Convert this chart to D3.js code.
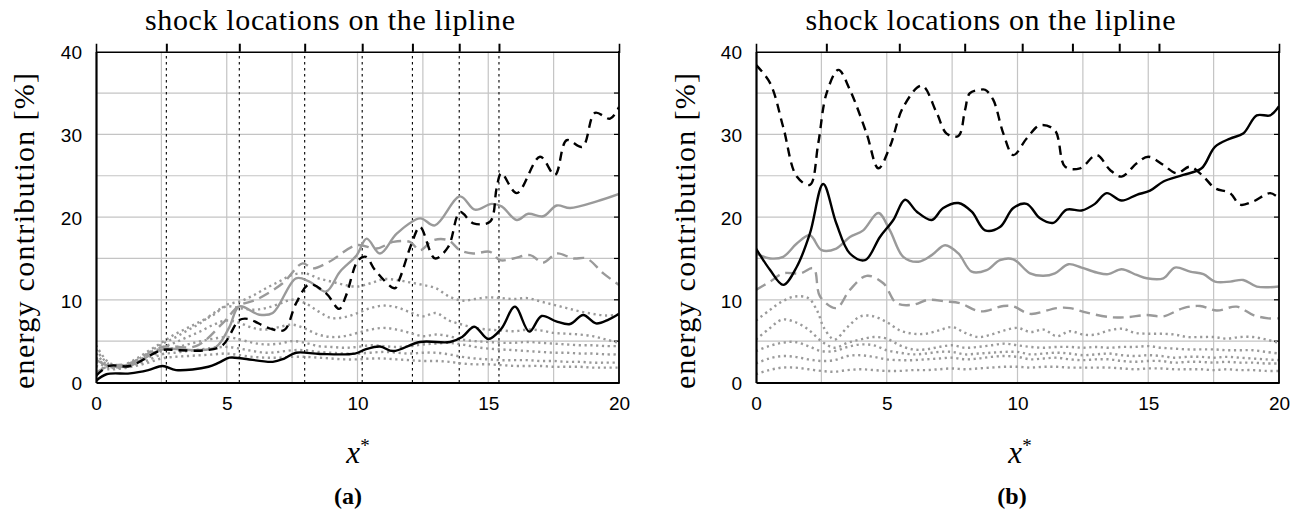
<!DOCTYPE html>
<html><head><meta charset="utf-8">
<script src="https://cdn.jsdelivr.net/npm/d3@7/dist/d3.min.js"></script>
<style>body{margin:0;background:#fff}</style>
</head><body>
<svg id="c" width="1305" height="512" xmlns="http://www.w3.org/2000/svg"></svg>
<script>
// ---------- data ----------
const xTickValues = [0, 5, 10, 15, 20];
const yTickValues = [0, 10, 20, 30, 40];
const xGridValues = [2.5, 5, 7.5, 10, 12.5, 15, 17.5];
const yGridValues = [5, 10, 15, 20, 25, 30, 35];
const shockLocations = [2.69, 5.48, 7.98, 10.18, 12.1, 13.89, 15.41];
const titleText = "shock locations on the lipline";
const yLabelText = "energy contribution [%]";
const panelLabels = ["(a)", "(b)"];

// panel (a)
const a_blackSolid = [[0,0.2],[0.4,1.0],[1.3,1.1],[2,1.5],[2.55,2.0],[3.06,1.5],[4.3,1.9],[4.7,2.4],[5.1,3.0],[5.6,2.9],[6.76,2.5],[7.2,2.9],[7.65,3.6],[8.57,3.45],[9.9,3.5],[10.3,4.0],[10.86,4.35],[11.36,3.8],[12.39,4.9],[13.54,4.9],[14.0,5.5],[14.47,6.75],[15.0,5.26],[15.5,6.5],[16.02,9.17],[16.57,6.15],[17.04,8.04],[17.6,7.4],[18.13,7.07],[18.63,8.16],[19.12,7.15],[19.6,7.6],[20,8.3]];
const a_blackDashed = [[0,0.8],[0.5,2.0],[1.3,2.0],[2.5,3.9],[3.2,3.9],[4.2,3.9],[4.84,4.5],[5.48,7.55],[5.8,7.7],[6.63,6.55],[7.2,6.35],[7.65,9.57],[8.16,11.87],[8.8,10.78],[9.3,8.9],[9.56,10.5],[10.03,14.8],[10.33,15.2],[10.67,13.6],[11.43,11.4],[11.62,12.6],[12.07,16.8],[12.39,18.8],[12.96,15.0],[13.47,16.4],[13.92,20.6],[14.43,19.25],[15.07,19.45],[15.32,23.5],[15.5,25.3],[16.09,22.9],[16.98,27.3],[17.55,25.1],[18.0,29.3],[18.6,28.5],[19.08,32.6],[19.66,31.9],[20,33.3]];
const a_graySolid = [[0,2.8],[0.4,2.1],[1.27,2.0],[2.55,4.0],[3.82,3.9],[4.59,4.3],[5.1,6.7],[5.48,9.2],[6.25,8.2],[6.76,8.4],[7.65,12.6],[8.16,12.2],[8.8,11.0],[9.33,13.4],[9.97,15.4],[10.35,17.4],[10.86,15.6],[11.5,18.0],[12.39,19.85],[12.96,19.0],[13.92,22.5],[14.49,20.9],[15.13,21.6],[15.51,21.3],[16.09,19.65],[16.53,20.4],[17.1,20.1],[17.62,21.4],[18.13,21.1],[19.15,21.9],[20,22.8]];
const a_grayDashed = [[0,1.2],[0.5,2.0],[1.27,2.3],[2.55,4.3],[3.82,4.4],[4.84,7.15],[5.48,9.3],[6.12,10.0],[7.14,12.0],[7.9,14.4],[8.29,13.8],[8.92,14.6],[9.97,16.6],[10.73,16.2],[11.37,17.0],[12.0,17.0],[12.39,16.0],[12.9,17.2],[13.47,17.2],[13.92,16.0],[14.43,15.6],[15.07,15.8],[15.45,14.8],[15.96,15.0],[16.6,15.4],[17.1,14.5],[17.62,15.6],[18.25,15.0],[18.76,15.0],[19.4,13.2],[20,11.8]];
const a_dotted1 = [[0,4.5],[0.5,2.4],[1,2.1],[1.5,2.8],[2,3.8],[2.5,4.8],[3,5.8],[3.5,6.6],[4,7.4],[4.5,8.2],[5,9.4],[5.5,9.8],[6,10.5],[6.5,11.4],[7,12.2],[7.5,13.0],[8,13.2],[8.5,12.6],[9,12.2],[9.5,11.8],[10,11.6],[10.5,12.0],[11,12.5],[11.5,12.4],[12,12.1],[12.5,11.8],[13,11.4],[13.5,10.4],[14,9.9],[14.5,10.1],[15,10.3],[15.5,10.2],[16,10.1],[16.5,10.2],[17,9.8],[17.5,9.4],[18,9.0],[18.5,8.6],[19,8.3],[19.5,8.1],[20,8.2]];
const a_dotted2 = [[0,4.0],[0.5,2.2],[1,2.0],[1.5,2.6],[2,3.6],[2.5,4.6],[3,5.4],[3.5,6.3],[4,7.2],[4.5,8.4],[5,9.2],[5.5,9.0],[6,8.8],[6.5,9.0],[7,9.5],[7.5,10.0],[8,9.6],[8.5,8.6],[9,7.8],[9.5,7.9],[10,8.4],[10.5,9.0],[11,9.3],[11.5,9.1],[12,8.5],[12.5,8.0],[13,8.4],[13.5,7.5],[14,7.0],[14.5,6.6],[15,6.4],[15.5,6.3],[16,6.2],[16.5,6.4],[17,6.3],[17.5,6.0],[18,5.9],[18.5,5.8],[19,5.6],[19.5,5.2],[20,4.8]];
const a_dotted3 = [[0,3.5],[0.5,2.0],[1,2.0],[1.5,2.5],[2,3.3],[2.5,4.2],[3,4.8],[3.5,5.5],[4,6.2],[4.5,7.0],[5,7.5],[5.5,7.2],[6,6.6],[6.5,6.4],[7,6.7],[7.5,7.0],[8,6.5],[8.5,5.8],[9,5.5],[9.5,5.6],[10,6.0],[10.5,6.4],[11,6.6],[11.5,6.4],[12,6.0],[12.5,5.6],[13,5.8],[13.5,5.6],[14,5.2],[14.5,5.0],[15,4.9],[15.5,4.8],[16,4.8],[16.5,4.9],[17,4.8],[17.5,4.7],[18,4.6],[18.5,4.5],[19,4.5],[19.5,4.4],[20,4.4]];
const a_dotted4 = [[0,3.0],[0.5,1.9],[1,1.9],[1.5,2.4],[2,3.0],[2.5,3.8],[3,4.2],[3.5,4.6],[4,5.0],[4.5,5.3],[5,5.5],[5.5,5.2],[6,4.8],[6.5,4.6],[7,4.7],[7.5,5.0],[8,4.8],[8.5,4.4],[9,4.3],[9.5,4.2],[10,4.3],[10.5,4.5],[11,4.4],[11.5,4.3],[12,4.4],[12.5,4.6],[13,4.7],[13.5,4.8],[14,4.6],[14.5,4.3],[15,4.1],[15.5,4.0],[16,3.9],[16.5,3.8],[17,3.7],[17.5,3.6],[18,3.6],[18.5,3.5],[19,3.5],[19.5,3.4],[20,3.4]];
const a_dotted5 = [[0,2.5],[0.5,1.8],[1,1.8],[1.5,2.2],[2,2.7],[2.5,3.4],[3,3.6],[3.5,3.8],[4,4.0],[4.5,4.2],[5,4.3],[5.5,4.1],[6,3.8],[6.5,3.6],[7,3.7],[7.5,3.9],[8,3.9],[8.5,3.7],[9,3.6],[9.5,3.5],[10,3.5],[10.5,3.6],[11,3.7],[11.5,3.6],[12,3.5],[12.5,3.6],[13,3.6],[13.5,3.4],[14,3.1],[14.5,2.9],[15,2.8],[15.5,2.7],[16,2.7],[16.5,2.7],[17,2.6],[17.5,2.6],[18,2.5],[18.5,2.5],[19,2.4],[19.5,2.4],[20,2.4]];
const a_dotted6 = [[0,2.0],[0.5,1.6],[1,1.7],[1.5,2.0],[2,2.4],[2.5,2.9],[3,3.1],[3.5,3.2],[4,3.3],[4.5,3.4],[5,3.5],[5.5,3.3],[6,3.1],[6.5,3.0],[7,3.0],[7.5,3.1],[8,3.1],[8.5,3.0],[9,2.9],[9.5,2.8],[10,2.8],[10.5,2.9],[11,2.9],[11.5,2.8],[12,2.7],[12.5,2.6],[13,2.6],[13.5,2.5],[14,2.3],[14.5,2.2],[15,2.2],[15.5,2.1],[16,2.0],[16.5,2.0],[17,2.0],[17.5,1.9],[18,1.9],[18.5,1.9],[19,1.8],[19.5,1.8],[20,1.8]];

// panel (b)
const b_blackDashed = [[0,38.4],[0.54,36.2],[1.04,30.9],[1.56,24.9],[2.06,23.9],[2.38,28.9],[2.7,35.0],[3.15,37.8],[3.59,35.4],[4.23,30.1],[4.68,25.9],[5.12,28.5],[5.63,33.3],[6.34,35.9],[6.91,32.6],[7.29,30.1],[7.74,29.8],[7.99,32.9],[8.18,35.0],[8.57,35.4],[8.76,35.4],[9.07,34.2],[9.46,30.1],[9.84,27.5],[10.35,29.5],[10.86,31.1],[11.43,30.5],[11.82,26.1],[12.39,25.9],[13.03,27.5],[13.54,25.7],[13.98,24.9],[14.56,26.5],[15.0,27.3],[15.58,26.3],[16.09,25.3],[16.6,26.1],[17.11,24.9],[17.55,23.5],[18.13,22.9],[18.51,21.5],[19.02,21.9],[19.66,22.9],[20,22.3]];
const b_blackSolid = [[0,16.2],[0.54,13.6],[1.04,11.8],[1.56,14.0],[2.06,18.0],[2.57,24.0],[3.07,19.25],[3.59,15.6],[4.17,14.8],[4.74,17.6],[5.25,19.65],[5.7,22.1],[6.15,20.65],[6.72,19.65],[7.16,21.1],[7.74,21.7],[8.25,20.65],[8.76,18.4],[9.33,18.8],[9.84,21.1],[10.35,21.6],[10.86,19.85],[11.37,19.3],[11.88,20.9],[12.45,20.8],[12.96,21.6],[13.41,22.9],[13.98,22.0],[14.56,22.7],[15.07,23.2],[15.58,24.3],[16.34,25.1],[17.04,25.9],[17.55,28.5],[18.13,29.5],[18.63,30.1],[19.15,32.3],[19.66,32.3],[20,33.4]];
const b_graySolid = [[0,15.6],[0.54,15.0],[1.04,15.2],[1.56,16.8],[2.06,17.8],[2.51,16.0],[3.07,16.2],[3.59,17.6],[4.1,18.4],[4.68,20.5],[5.12,18.4],[5.63,15.2],[6.21,14.6],[6.72,15.4],[7.23,16.6],[7.74,15.6],[8.25,13.4],[8.82,13.6],[9.33,14.8],[9.84,14.9],[10.48,13.2],[10.99,12.9],[11.43,13.2],[11.95,14.3],[12.45,13.9],[13.03,13.3],[13.47,13.1],[13.98,13.7],[14.56,13.0],[14.94,12.6],[15.58,12.6],[16.02,13.9],[16.6,13.4],[17.11,13.1],[17.55,12.2],[18.13,12.2],[18.63,12.4],[19.15,11.6],[20,11.6]];
const b_grayDashed = [[0,11.2],[0.54,12.2],[1.04,13.2],[1.7,13.2],[2.2,13.8],[2.45,10.4],[3.07,9.0],[3.59,11.2],[4.23,12.9],[4.87,12.0],[5.37,9.6],[6.0,9.4],[6.59,10.0],[7.23,9.8],[7.8,9.6],[8.57,8.6],[9.46,9.25],[9.84,9.2],[10.48,8.3],[11.5,9.0],[12.01,9.0],[12.65,8.44],[13.54,7.9],[14.18,7.9],[14.94,8.16],[15.58,8.0],[16.34,9.0],[16.98,9.25],[17.62,8.7],[18.38,9.17],[19.02,8.16],[19.59,7.76],[20,7.76]];
const b_dotted1 = [[0,7.5],[0.5,8.7],[1,9.8],[1.5,10.4],[2,10.2],[2.35,8.6],[2.6,6.6],[3,5.2],[3.5,6.7],[4,8.0],[4.5,8.0],[5,7.3],[5.5,6.3],[6,5.9],[6.5,5.9],[7,6.3],[7.5,6.7],[8,6.0],[8.5,5.5],[9,5.8],[9.5,6.3],[10,6.6],[10.5,6.1],[11,6.4],[11.5,5.6],[12,6.2],[12.5,5.8],[13,5.8],[13.5,6.3],[14,6.5],[14.5,6.0],[15,5.9],[15.5,5.9],[16,5.8],[16.5,5.5],[17,5.5],[17.5,5.5],[18,5.3],[18.5,5.5],[19,5.5],[19.5,5.2],[20,4.8]];
const b_dotted2 = [[0,5.2],[0.5,6.5],[1,7.6],[1.5,7.3],[2,6.4],[2.5,5.0],[3,4.2],[3.5,4.8],[4,5.2],[4.5,5.5],[5,5.3],[5.5,4.5],[6,4.0],[6.5,4.0],[7,4.3],[7.5,4.5],[8,4.2],[8.5,4.3],[9,4.5],[9.5,4.7],[10,4.5],[10.5,4.3],[11,4.2],[11.5,4.3],[12,4.3],[12.5,4.2],[13,4.3],[13.5,4.2],[14,4.3],[14.5,4.3],[15,4.4],[15.5,4.2],[16,4.1],[16.5,4.0],[17,4.0],[17.5,4.0],[18,3.9],[18.5,3.9],[19,3.9],[19.5,3.7],[20,3.5]];
const b_dotted3 = [[0,3.8],[0.5,4.4],[1,4.8],[1.5,4.9],[2,4.4],[2.5,3.8],[3,3.8],[3.5,4.3],[4,4.6],[4.5,4.5],[5,3.9],[5.5,3.6],[6,3.4],[6.5,3.5],[7,3.7],[7.5,3.7],[8,3.4],[8.5,3.5],[9,3.6],[9.5,3.7],[10,3.7],[10.5,3.4],[11,3.5],[11.5,3.6],[12,3.5],[12.5,3.3],[13,3.4],[13.5,3.5],[14,3.3],[14.5,3.2],[15,3.3],[15.5,3.2],[16,3.0],[16.5,3.1],[17,3.1],[17.5,3.0],[18,3.1],[18.5,3.0],[19,2.9],[19.5,2.8],[20,2.7]];
const b_dotted4 = [[0,2.3],[0.5,2.9],[1,3.2],[1.5,3.1],[2,2.8],[2.5,2.6],[3,2.7],[3.5,3.2],[4,3.3],[4.5,3.1],[5,2.8],[5.5,2.7],[6,2.7],[6.5,2.8],[7,2.9],[7.5,3.0],[8,2.8],[8.5,2.9],[9,3.1],[9.5,3.2],[10,3.1],[10.5,2.8],[11,2.9],[11.5,3.0],[12,2.8],[12.5,2.7],[13,2.8],[13.5,2.8],[14,2.6],[14.5,2.5],[15,2.6],[15.5,2.6],[16,2.4],[16.5,2.5],[17,2.5],[17.5,2.4],[18,2.5],[18.5,2.4],[19,2.4],[19.5,2.3],[20,2.3]];
const b_dotted5 = [[0,1.0],[0.5,1.5],[1,1.8],[1.5,1.8],[2,1.6],[2.5,1.4],[3,1.3],[3.5,1.5],[4,1.6],[4.5,1.5],[5,1.4],[5.5,1.4],[6,1.5],[6.5,1.5],[7,1.6],[7.5,1.7],[8,1.6],[8.5,1.7],[9,1.8],[9.5,1.9],[10,1.9],[10.5,1.8],[11,1.9],[11.5,1.9],[12,1.8],[12.5,1.8],[13,1.8],[13.5,1.8],[14,1.7],[14.5,1.6],[15,1.7],[15.5,1.7],[16,1.6],[16.5,1.6],[17,1.6],[17.5,1.5],[18,1.6],[18.5,1.5],[19,1.5],[19.5,1.4],[20,1.4]];

// ---------- styles ----------
const STY = {
  blackSolid:  {stroke:"#000", w:2.4, dash:null},
  blackDashed: {stroke:"#000", w:2.4, dash:"9,6"},
  graySolid:   {stroke:"#9a9a9a", w:2.4, dash:null},
  grayDashed:  {stroke:"#9a9a9a", w:2.4, dash:"11,6"},
  grayDotted:  {stroke:"#9a9a9a", w:2.4, dash:"2.2,3.6"}
};

const panels = [
  {x0:96, x1:619, label:panelLabels[0], shockLines:true, ylabX:34, titleX:330, labX:348, xlX:358},
  {x0:756, x1:1279, label:panelLabels[1], shockLines:false, ylabX:695, titleX:990.5, labX:1012, xlX:1020}
];
panels[0].series = [
  [a_dotted6,"grayDotted"],[a_dotted5,"grayDotted"],[a_dotted4,"grayDotted"],[a_dotted3,"grayDotted"],[a_dotted2,"grayDotted"],[a_dotted1,"grayDotted"],
  [a_grayDashed,"grayDashed"],[a_graySolid,"graySolid"],[a_blackDashed,"blackDashed"],[a_blackSolid,"blackSolid"]];
panels[1].series = [
  [b_dotted5,"grayDotted"],[b_dotted4,"grayDotted"],[b_dotted3,"grayDotted"],[b_dotted2,"grayDotted"],[b_dotted1,"grayDotted"],
  [b_grayDashed,"grayDashed"],[b_graySolid,"graySolid"],[b_blackDashed,"blackDashed"],[b_blackSolid,"blackSolid"]];

const Y0 = 382.5, Y1 = 51.7;
const svg = d3.select("#c");
const serif = "'Liberation Serif','DejaVu Serif',serif";
const sans = "'Liberation Sans',Arial,sans-serif";

panels.forEach(p => {
  const x = d3.scaleLinear().domain([0,20]).range([p.x0, p.x1]);
  const y = d3.scaleLinear().domain([0,40]).range([Y0, Y1]);
  const g = svg.append("g");

  // grid
  g.append("g").selectAll("line").data(xGridValues).join("line")
    .attr("x1", d=>x(d)).attr("x2", d=>x(d)).attr("y1", Y0).attr("y2", Y1)
    .attr("stroke", "#c4c4c4").attr("stroke-width", 1.2);
  g.append("g").selectAll("line").data(yGridValues).join("line")
    .attr("y1", d=>y(d)).attr("y2", d=>y(d)).attr("x1", p.x0).attr("x2", p.x1)
    .attr("stroke", "#c4c4c4").attr("stroke-width", 1.2);
  // right-frame inner ticks
  g.append("g").selectAll("line").data(yGridValues).join("line")
    .attr("y1", d=>y(d)).attr("y2", d=>y(d)).attr("x1", p.x1-5).attr("x2", p.x1)
    .attr("stroke", "#000").attr("stroke-width", 1.2);

  // shock lines
  if (p.shockLines) {
    g.append("g").selectAll("line").data(shockLocations).join("line")
      .attr("x1", d=>x(d)).attr("x2", d=>x(d)).attr("y1", Y0).attr("y2", Y1)
      .attr("stroke", "#000").attr("stroke-width", 1.1).attr("stroke-dasharray", "2.5,3.5");
  }

  // clip
  const cid = "clip" + p.x0;
  svg.append("clipPath").attr("id", cid).append("rect")
    .attr("x", p.x0).attr("y", Y1).attr("width", p.x1-p.x0).attr("height", Y0-Y1);

  const line = d3.line().x(d=>x(d[0])).y(d=>y(d[1])).curve(d3.curveCatmullRom.alpha(0.5));
  const lg = g.append("g").attr("clip-path", `url(#${cid})`);
  p.series.forEach(([data, sname]) => {
    const s = STY[sname];
    lg.append("path").attr("d", line(data)).attr("fill", "none")
      .attr("stroke", s.stroke).attr("stroke-width", s.w)
      .attr("stroke-dasharray", s.dash).attr("stroke-linejoin", "round");
  });

  // axes (frame)
  const axB = d3.axisBottom(x).tickValues(xTickValues).tickSize(0).tickPadding(14).tickFormat(d3.format("d"));
  const axL = d3.axisLeft(y).tickValues(yTickValues).tickSize(0).tickPadding(14).tickFormat(d3.format("d"));
  const axT = d3.axisTop(x).tickValues(shockLocations).tickSize(8).tickFormat("");
  const gb = g.append("g").attr("transform", `translate(0,${Y0})`).call(axB);
  const gl = g.append("g").attr("transform", `translate(${p.x0},0)`).call(axL);
  const gt = g.append("g").attr("transform", `translate(0,${Y1})`).call(axT);
  [gb, gl].forEach(a => {
    a.select(".domain").attr("stroke", "#000").attr("stroke-width", 2.2);
    a.selectAll("text").attr("font-family", sans).attr("font-size", 19).attr("fill", "#000");
  });
  gl.selectAll("text").attr("dy", "0.38em");
  gt.select(".domain").attr("stroke", "#000").attr("stroke-width", 1.6);
  gt.selectAll(".tick line").attr("stroke", "#000").attr("stroke-width", 2);
  g.append("line").attr("x1", p.x1).attr("x2", p.x1).attr("y1", Y1-0.8).attr("y2", Y0+1)
    .attr("stroke", "#000").attr("stroke-width", 1.8);

  // title
  g.append("text").attr("x", p.titleX).attr("y", 30).attr("text-anchor", "middle")
    .attr("font-family", serif).attr("font-size", 30)
    .attr("textLength", 370).attr("lengthAdjust", "spacing").text(titleText);
  // x label
  const xl = g.append("text").attr("x", p.xlX).attr("y", 463).attr("text-anchor", "middle")
    .attr("font-family", serif).attr("font-size", 31).attr("font-style", "italic");
  xl.append("tspan").text("x");
  xl.append("tspan").attr("dy", -11).attr("font-size", 19).attr("font-style", "normal").text("*");
  // panel label
  g.append("text").attr("x", p.labX).attr("y", 504).attr("text-anchor", "middle")
    .attr("font-family", serif).attr("font-size", 24).attr("font-weight", "bold").text(p.label);
  // y label
  g.append("text").attr("transform", `translate(${p.ylabX},231) rotate(-90)`)
    .attr("text-anchor", "middle").attr("font-family", serif).attr("font-size", 30)
    .attr("textLength", 316).attr("lengthAdjust", "spacing").text(yLabelText);
});
</script>
</body></html>
